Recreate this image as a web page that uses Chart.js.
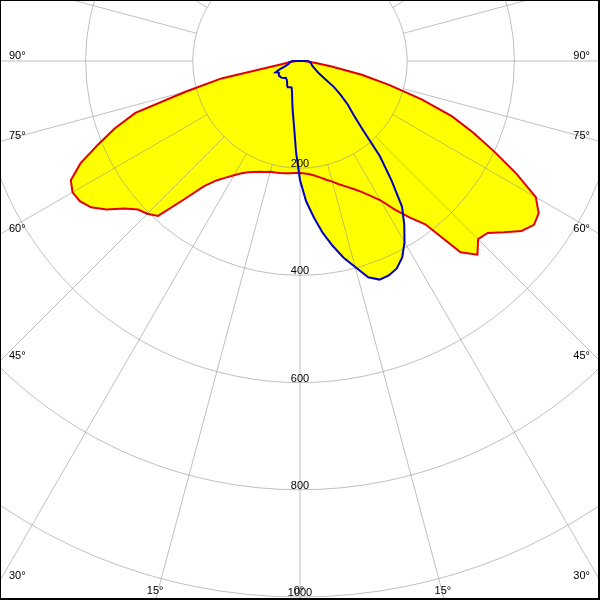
<!DOCTYPE html>
<html>
<head>
<meta charset="utf-8">
<script src="https://cdn.jsdelivr.net/npm/chart.js@4.4.0/dist/chart.umd.min.js"></script>
<style>
  html, body { margin: 0; padding: 0; background: #fff; }
  #frame {
    position: relative; width: 600px; height: 600px; box-sizing: border-box;
    border: solid #000; border-width: 1px 2px 2px 1px;
    overflow: hidden; background: #fff;
  }
  #frame canvas { position: absolute; left: -237px; top: -476px; }
</style>
</head>
<body>
<div id="frame"><canvas id="polar" width="1072" height="1074"></canvas></div>
<script>
// gamma angle from nadir: left half negative, right half positive
const gamma = [
  -90, -87.5, -85, -82.5, -80, -77.5, -75, -72.5, -70, -67.5, -65, -62.5,
  -60, -57.5, -55, -52.5, -50, -47.5, -45, -42.5, -40, -37.5, -35, -32.5,
  -30, -27.5, -25, -22.5, -20, -17.5, -15, -12.5, -10, -7.5, -5, -2.5,
  0, 2.5, 5, 7.5, 10, 12.5, 15, 17.5, 20, 22.5, 25, 27.5,
  30, 32.5, 35, 37.5, 40, 42.5, 45, 47.5, 50, 52.5, 55, 57.5,
  60, 62.5, 65, 67.5, 70, 72.5, 75, 77.5, 80, 82.5, 85, 87.5, 90
];
// C0-C180 plane (red), cd
const planeC0 = [
  5, 10, 15, 22, 35, 150, 220, 322, 368, 408, 452, 482,
  490, 487, 476, 455, 428, 410, 403, 392, 338, 295, 272, 258,
  246, 236, 229, 224, 220, 217, 214, 213, 212, 211, 210, 209,
  209, 210, 212, 216, 221, 227, 233, 241, 249, 258, 269, 283,
  300, 328, 356, 384, 466, 490, 470, 475, 497, 521, 533, 528,
  508, 455, 400, 350, 302, 238, 172, 118, 60, 32, 17, 10, 5
];
// C90-C270 plane (blue), cd
const planeC90 = [
  15, 16, 18, 20, 20, 21, 22, 26, 30, 42, 50, 46,
  45, 47, 48, 47, 47, 46, 45, 43, 41, 42, 43, 45,
  48, 52, 54, 53, 52, 52, 58, 68, 82, 100, 125, 170,
  222, 262, 292, 323, 350, 376, 398, 423, 434, 433, 427, 413,
  390, 362, 332, 280, 232, 172, 140, 122, 100, 80, 52, 40,
  35, 31, 28, 26, 24, 23, 22, 21, 20, 20, 18, 16, 14
];
const radialTicks = [200, 400, 600, 800, 1000];
const angleTicks = [90, 75, 60, 45, 30, 15, 0, -15, -30, -45, -60, -75, -90];

const STEP = 2.5;
const GRID = 'rgba(140,140,140,0.55)';
const FONT = '11px "Liberation Sans", Arial, sans-serif';
// canvas -> page offset
const OFF_X = 236, OFF_Y = 475;

// full circle for the radar scale: slot i sits at 180 - i*STEP
const labels = [], redData = [], blueData = [];
for (let i = 0; i < 360 / STEP; i++) {
  const theta = 180 - i * STEP;
  labels.push(theta + '°');
  const k = gamma.indexOf(theta);
  redData.push(k >= 0 ? planeC0[k] : 0);
  blueData.push(k >= 0 ? planeC90[k] : 0);
}
const slotOf = theta => (180 - theta) / STEP;

const photometricGrid = {
  id: 'photometricGrid',
  beforeDatasetsDraw(chart) {
    const r = chart.scales.r, ctx = chart.ctx;
    ctx.save();
    ctx.strokeStyle = GRID;
    ctx.lineWidth = 1;
    for (let a = 0; a < 360; a += 15) {
      const i = a / STEP;
      const p1 = r.getPointPositionForValue(i, 200);
      const p2 = r.getPointPositionForValue(i, 1300);
      ctx.beginPath();
      ctx.moveTo(p1.x, p1.y);
      ctx.lineTo(p2.x, p2.y);
      ctx.stroke();
    }
    ctx.restore();
  },
  afterDraw(chart) {
    const r = chart.scales.r, ctx = chart.ctx;
    ctx.save();
    ctx.font = FONT;
    ctx.fillStyle = '#000';
    ctx.textBaseline = 'alphabetic';

    // intensity values along the nadir
    ctx.textAlign = 'center';
    radialTicks.forEach(v => {
      const p = r.getPointPositionForValue(slotOf(0), v);
      ctx.fillText(String(v), p.x, p.y - 1);
    });

    // angle labels where the spokes leave the frame
    const cx = r.xCenter - OFF_X, cy = r.yCenter - OFF_Y;
    angleTicks.forEach(t => {
      const p = r.getPointPositionForValue(slotOf(t), 1000);
      let dx = p.x - r.xCenter, dy = p.y - r.yCenter;
      const len = Math.hypot(dx, dy);
      dx /= len; dy /= len;
      const tx = Math.abs(dx) < 1e-9 ? Infinity : (dx < 0 ? -cx / dx : (600 - cx) / dx);
      const ty = dy < 1e-9 ? Infinity : (598 - cy) / dy;
      const txt = Math.abs(t) + '°';
      if (tx < ty) {
        const y = cy + dy * tx + OFF_Y;
        if (dx < 0) { ctx.textAlign = 'left'; ctx.fillText(txt, 9 + OFF_X, y - 2); }
        else { ctx.textAlign = 'right'; ctx.fillText(txt, 590 + OFF_X, y - 2); }
      } else {
        const x = cx + dx * ty + OFF_X;
        ctx.textAlign = 'center';
        ctx.fillText(txt, x - 1, 594 + OFF_Y);
      }
    });
    ctx.restore();
  }
};

new Chart(document.getElementById('polar'), {
  type: 'radar',
  data: {
    labels: labels,
    datasets: [{
      label: 'C90-C270',
      data: blueData,
      borderColor: '#0000c0',
      backgroundColor: '#ffff00',
      borderWidth: 2,
      fill: 'origin',
      pointRadius: 0,
      tension: 0
    }, {
      label: 'C0-C180',
      data: redData,
      borderColor: '#e00000',
      backgroundColor: '#ffff00',
      borderWidth: 2,
      fill: 'origin',
      pointRadius: 0,
      tension: 0
    }]
  },
  options: {
    responsive: false,
    animation: false,
    layout: { padding: { bottom: 2 } },
    scales: {
      r: {
        min: 0,
        max: 1000,
        startAngle: 0,
        ticks: { display: false, stepSize: 200 },
        pointLabels: { display: false },
        angleLines: { display: false },
        grid: { circular: true, color: GRID, lineWidth: 1 }
      }
    },
    plugins: {
      legend: { display: false },
      tooltip: { enabled: false },
      filler: { drawTime: 'beforeDraw' }
    }
  },
  plugins: [photometricGrid]
});
</script>
</body>
</html>
